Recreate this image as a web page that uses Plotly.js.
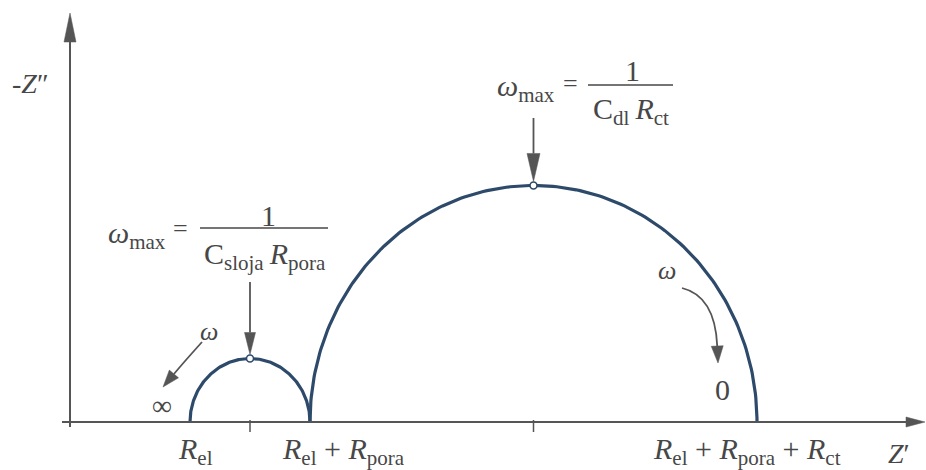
<!DOCTYPE html>
<html><head><meta charset="utf-8">
<script src="https://cdn.plot.ly/plotly-3.0.1.min.js"></script>
<style>html,body{margin:0;padding:0;background:#fff}#chart{width:926px;height:470px}</style>
</head><body><div id="chart"></div>
<script>
// ---- values (arbitrary resistance units) ----
const resistanceNames = ['R_el', 'R_pora', 'R_ct'];
const resistanceValues = [20, 20, 74.5];
const axisTickLabels = [
  '<i>R</i><sub>el</sub>',
  '<i>R</i><sub>el</sub> + <i>R</i><sub>pora</sub>',
  '<i>R</i><sub>el</sub> + <i>R</i><sub>pora</sub> + <i>R</i><sub>ct</sub>'
];
const omegaMaxLabel = '<i>ω</i><sub>max</sub>';
const fractionNumerators = ['1', '1'];
const fractionDenominators = ['C<sub>sloja</sub>\u2009<i>R</i><sub>pora</sub>', 'C<sub>dl</sub>\u2009<i>R</i><sub>ct</sub>'];
const frequencyLabel = '<i>ω</i>';
const frequencyEndLabels = ['∞', '0'];
const axisTitles = ['<i>Z</i>′', '-<i>Z</i>″'];

// ---- styles ----
const CURVE = '#2e4a6b', AXIS = '#555555', TEXT = '#474747';
const FONT = 'Liberation Serif, Times New Roman, serif';
const PXX = 6, PXY = 6.35;           // pixels per unit
const ORIGIN_PX = [70, 422];          // origin position in the 926x470 figure

const Rel = resistanceValues[0], Rp = resistanceValues[1], Rct = resistanceValues[2];
const arcs = [
  {start: Rel, r: Rp / 2},
  {start: Rel + Rp, r: Rct / 2}
];
arcs.forEach(a => { a.c = a.start + a.r; a.end = a.start + 2 * a.r; });

// semicircle traces built from the resistances
const traces = arcs.map(a => {
  const xs = [], ys = [];
  for (let i = 0; i <= 180; i++) {
    const th = Math.PI * i / 180;
    xs.push(a.c - a.r * Math.cos(th));
    ys.push(a.r * Math.sin(th));
  }
  return {x: xs, y: ys, mode: 'lines', type: 'scatter', hoverinfo: 'skip',
          line: {color: CURVE, width: 3.2}, showlegend: false};
});
traces.push({x: arcs.map(a => a.c), y: arcs.map(a => a.r), mode: 'markers', type: 'scatter',
  hoverinfo: 'skip', showlegend: false,
  marker: {symbol: 'circle', size: 7, color: '#ffffff', line: {color: CURVE, width: 1.6}}});

const shapes = [];
const annotations = [];

function fmt(p) { return p[0].toFixed(2) + ',' + p[1].toFixed(2); }
// arrow in pixel offsets (dx right, dy down) relative to a data anchor
function arrow(ax, ay, start, ctrl, tip, headLen, headHalf, width) {
  const d = [tip[0] - ctrl[0], tip[1] - ctrl[1]];
  const L = Math.hypot(d[0], d[1]);
  const u = [d[0] / L, d[1] / L], n = [-u[1], u[0]];
  const base = [tip[0] - u[0] * headLen, tip[1] - u[1] * headLen];
  const f = p => [p[0], -p[1]];
  const common = {xref: 'x', yref: 'y', xsizemode: 'pixel', ysizemode: 'pixel', xanchor: ax, yanchor: ay};
  shapes.push(Object.assign({type: 'path', path: 'M' + fmt(f(start)) + ' Q' + fmt(f(ctrl)) + ' ' + fmt(f(base)),
    line: {color: AXIS, width: width}}, common));
  const p1 = [base[0] + n[0] * headHalf, base[1] + n[1] * headHalf];
  const p2 = [base[0] - n[0] * headHalf, base[1] - n[1] * headHalf];
  shapes.push(Object.assign({type: 'path', path: 'M' + fmt(f(tip)) + ' L' + fmt(f(p1)) + ' L' + fmt(f(p2)) + ' Z',
    fillcolor: AXIS, line: {color: AXIS, width: 0.5}}, common));
}

// axes
shapes.push({type: 'line', xref: 'paper', yref: 'y', x0: 62 / 926, x1: 910 / 926, y0: 0, y1: 0,
  line: {color: AXIS, width: 2}});
shapes.push({type: 'path', xref: 'paper', yref: 'y', xsizemode: 'pixel', ysizemode: 'pixel', xanchor: 1, yanchor: 0,
  path: 'M-1,0 L-20,5 L-20,-5 Z', fillcolor: AXIS, line: {color: AXIS, width: 0.5}});
shapes.push({type: 'line', xref: 'x', yref: 'paper', x0: 0, x1: 0, y0: (470 - 427) / 470, y1: (470 - 35) / 470,
  line: {color: AXIS, width: 2}});
shapes.push({type: 'path', xref: 'x', yref: 'paper', xsizemode: 'pixel', ysizemode: 'pixel', xanchor: 0, yanchor: 1,
  path: 'M0,-13 L-6,-42 L6,-42 Z', fillcolor: AXIS, line: {color: AXIS, width: 0.5}});
// ticks at the centres of the semicircles
arcs.forEach(a => shapes.push({type: 'line', xref: 'x', yref: 'y', ysizemode: 'pixel', yanchor: 0,
  x0: a.c, x1: a.c, y0: 2, y1: -10, line: {color: AXIS, width: 1.5}}));

// axis titles
annotations.push({xref: 'paper', yref: 'y', x: 1, y: 0, xshift: -14, yshift: -31, text: axisTitles[0],
  showarrow: false, font: {size: 28, color: TEXT, family: FONT}});
annotations.push({xref: 'x', yref: 'paper', x: 0, y: 1, xshift: -40, yshift: -66, text: axisTitles[1],
  showarrow: false, font: {size: 28, color: TEXT, family: FONT}});

// tick labels
const labelPos = [Rel, Rel + Rp, Rel + Rp + Rct];
const labelShift = [5, 33, -10];
labelPos.forEach((x, i) => annotations.push({xref: 'x', yref: 'y', x: x, y: 0, xshift: labelShift[i], yshift: -29,
  text: axisTickLabels[i], showarrow: false, font: {size: 30, color: TEXT, family: FONT}}));

// fraction blocks above each apex (offsets in pixels from the apex, y up)
const fracLayout = [
  {omega: [-82, 124], eq: [-70, 130], line: [-50, 78, 130.5], num: [18, 143], den: [15, 103],
   arrow: {start: [0, -76.5], tip: [0, -4], head: 22, half: 5.5}},
  {omega: [23.5, 97], eq: [36.5, 102], line: [54.5, 139.5, 100.5], num: [98.5, 115], den: [97.5, 74],
   arrow: {start: [0, -67.5], tip: [0, -4], head: 28, half: 6.5}}
];
arcs.forEach((a, i) => {
  const L = fracLayout[i];
  const base = {xref: 'x', yref: 'y', x: a.c, y: a.r, showarrow: false, font: {size: 30, color: TEXT, family: FONT}};
  annotations.push(Object.assign({}, base, {text: omegaMaxLabel, xanchor: 'right', xshift: L.omega[0], yshift: L.omega[1]}));
  annotations.push(Object.assign({}, base, {text: '=', xshift: L.eq[0], yshift: L.eq[1], font: {size: 26, color: TEXT, family: FONT}}));
  annotations.push(Object.assign({}, base, {text: fractionNumerators[i], xshift: L.num[0], yshift: L.num[1]}));
  annotations.push(Object.assign({}, base, {text: fractionDenominators[i], xshift: L.den[0], yshift: L.den[1]}));
  shapes.push({type: 'line', xref: 'x', yref: 'y', xsizemode: 'pixel', ysizemode: 'pixel', xanchor: a.c, yanchor: a.r,
    x0: L.line[0], x1: L.line[1], y0: L.line[2], y1: L.line[2], line: {color: TEXT, width: 1.6}});
  const s = L.arrow.start, t = L.arrow.tip;
  arrow(a.c, a.r, s, [0, (s[1] + t[1]) / 2], t, L.arrow.head, L.arrow.half, 1.8);
});

// frequency direction arrows
arrow(arcs[0].start, 0, [12, -80], [-6, -60], [-27, -35], 17, 6, 1.8);
annotations.push({xref: 'x', yref: 'y', x: arcs[0].start, y: 0, xshift: 19, yshift: 91, text: frequencyLabel,
  showarrow: false, font: {size: 26, color: TEXT, family: FONT}});
annotations.push({xref: 'x', yref: 'y', x: arcs[0].start, y: 0, xshift: -28, yshift: 17, text: frequencyEndLabels[0],
  showarrow: false, font: {size: 28, color: TEXT, family: FONT}});
arrow(arcs[1].end, 0, [-75, -134], [-42, -126], [-39, -59], 17, 6, 1.8);
annotations.push({xref: 'x', yref: 'y', x: arcs[1].end, y: 0, xshift: -90, yshift: 152, text: frequencyLabel,
  showarrow: false, font: {size: 26, color: TEXT, family: FONT}});
annotations.push({xref: 'x', yref: 'y', x: arcs[1].end, y: 0, xshift: -35, yshift: 33, text: frequencyEndLabels[1],
  showarrow: false, font: {size: 30, color: TEXT, family: FONT}});

const layout = {
  width: 926, height: 470, margin: {l: 0, r: 0, t: 0, b: 0},
  paper_bgcolor: '#ffffff', plot_bgcolor: '#ffffff', showlegend: false,
  xaxis: {range: [-ORIGIN_PX[0] / PXX, (926 - ORIGIN_PX[0]) / PXX], visible: false, fixedrange: true},
  yaxis: {range: [-(470 - ORIGIN_PX[1]) / PXY, ORIGIN_PX[1] / PXY], visible: false, fixedrange: true},
  shapes: shapes, annotations: annotations
};
Plotly.newPlot('chart', traces, layout, {displayModeBar: false, staticPlot: true});
</script>
</body></html>
